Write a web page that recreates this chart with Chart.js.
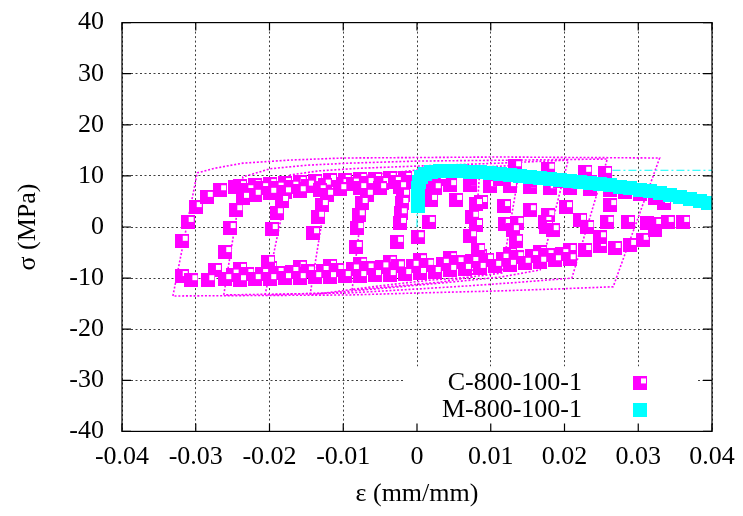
<!DOCTYPE html>
<html>
<head>
<meta charset="utf-8">
<script src="https://cdn.jsdelivr.net/npm/chart.js@4.4.0/dist/chart.umd.min.js"></script>
<style>
    html, body { margin: 0; padding: 0; background: #fff; }
    #wrap { width: 743px; height: 516px; }
</style>
</head>
<body>
<div id="wrap"><canvas id="chart" width="743" height="516"></canvas></div>
<script>
// Axis ticks
const xTicks = [-0.04, -0.03, -0.02, -0.01, 0, 0.01, 0.02, 0.03, 0.04];
const yTicks = [-40, -30, -20, -10, 0, 10, 20, 30, 40];

const seriesLabels = ['C-800-100-1', 'M-800-100-1'];

// C-800-100-1 : sampled points (strain mm/mm, stress MPa)
const cStrain = [
    // upper branch, outer row
    -0.0300, -0.0285, -0.0267, -0.0247, -0.0240, -0.0220, -0.0199, -0.0179, -0.0159, -0.0138, -0.0118, -0.0098, -0.0077, -0.0057, -0.0037, -0.0016,
    // upper branch, middle row
    -0.0230, -0.0210, -0.0189, -0.0169, -0.0148, -0.0125, -0.0101, -0.0087, -0.0067, -0.0047, -0.0030, -0.0008,
    // upper branch, inner row
    -0.0220, -0.0199, -0.0179, -0.0159, -0.0132, -0.0104, -0.0077, -0.0050, -0.0023, 0.0018, 0.0045, 0.0072, 0.0099, 0.0126, 0.0153, 0.0180, 0.0207, 0.0235, 0.0262, 0.0282, 0.0302, 0.0323,
    // upper branch near M curve
    0.0031, 0.0072, 0.0113, 0.0153, 0.0194, 0.0235, 0.0133, 0.0178, 0.0228, 0.0255,
    // lower branch, upper row
    -0.0274, -0.0240, -0.0199, -0.0159, -0.0118, -0.0077, -0.0037, 0.0004, 0.0045, 0.0085, 0.0126, 0.0167, 0.0207, 0.0248,
    // lower branch, middle row
    -0.0250, -0.0230, -0.0210, -0.0189, -0.0169, -0.0148, -0.0128, -0.0108, -0.0087, -0.0067, -0.0047, -0.0026,
    -0.0006, 0.0014, 0.0035, 0.0055, 0.0075, 0.0095, 0.0116, 0.0136, 0.0156, 0.0177, 0.0197,
    // lower branch, lower row
    -0.0319, -0.0306, -0.0283, -0.0260, -0.0240, -0.0220, -0.0199, -0.0179, -0.0159, -0.0138, -0.0118, -0.0098, -0.0077, -0.0057, -0.0037, -0.0016,
    0.0004, 0.0024, 0.0045, 0.0065, 0.0085, 0.0106, 0.0126, 0.0146, 0.0167, 0.0187, 0.0207,
    // lower branch right end
    0.0228, 0.0268, 0.0289, 0.0306, 0.0323,
    // reloading branches
    -0.0319, -0.0311,
    -0.0236, -0.0245, -0.0254, -0.0260,
    -0.0183, -0.0190, -0.0197, -0.0202,
    -0.0122, -0.0129, -0.0134, -0.0141,
    -0.0068, -0.0075, -0.0079, -0.0081, -0.0083,
    -0.0019, -0.0020, -0.0022, -0.0023, -0.0027,
    0.0024, 0.0019, 0.0016, 0.0001,
    // positive strain side
    0.0053, 0.0087, 0.0080, 0.0075, 0.0080, 0.0072, 0.0083,
    0.0118, 0.0119, 0.0136, 0.0130, 0.0134,
    0.0153, 0.0178, 0.0174, 0.0175, 0.0184,
    0.0202, 0.0262, 0.0221, 0.0231, 0.0258, 0.0248, 0.0286,
    0.0335, 0.0312, 0.0323, 0.0340, 0.0361
];
const cStress = [
    3.9, 5.9, 7.2, 7.8, 8.0, 8.2, 8.4, 8.6, 8.8, 9.0, 9.2, 9.2, 9.4, 9.4, 9.6, 9.6,
    7.2, 7.6, 7.7, 7.9, 8.1, 8.3, 8.4, 8.5, 8.6, 8.6, 8.8, 8.8,
    6.3, 6.7, 6.8, 7.0, 7.2, 7.4, 7.6, 7.6, 7.8, 8.0, 8.2, 8.2, 8.0, 8.0, 7.8, 7.6, 7.6, 7.4, 7.2, 6.8, 6.5, 5.7,
    9.4, 9.6, 9.4, 9.2, 9.0, 8.8, 11.9, 11.4, 10.8, 10.6,
    -8.4, -8.2, -8.0, -7.8, -7.6, -7.2, -6.8, -6.5, -6.1, -5.7, -5.3, -4.9, -4.5, -3.7,
    -9.3, -9.2, -9.1, -9.0, -8.8, -8.7, -8.6, -8.4, -8.3, -8.1, -7.9, -7.7,
    -7.6, -7.4, -7.2, -6.9, -6.7, -6.4, -6.2, -5.9, -5.7, -5.5, -5.3,
    -9.6, -10.4, -10.4, -10.2, -10.4, -10.2, -10.2, -10.0, -10.0, -9.8, -9.8, -9.6, -9.6, -9.4, -9.4, -9.2,
    -9.0, -8.8, -8.4, -8.2, -8.0, -7.6, -7.4, -7.0, -6.8, -6.5, -6.3,
    -4.5, -4.1, -3.5, -2.5, -0.6,
    -2.7, 1.0,
    5.7, 3.3, -0.2, -4.9,
    5.1, 2.7, -0.4, -6.8,
    6.3, 4.3, 2.0, -1.2,
    6.3, 4.7, 2.3, -0.2, -3.9,
    6.3, 4.7, 2.7, 0.8, -2.9,
    7.6, 5.3, 1.0, -2.0,
    5.3, 4.9, 4.5, 2.0, 0.4, -1.8, -4.5,
    4.1, 0.6, 0.8, -0.6, -2.7,
    3.3, 2.3, 1.0, 0, -0.6,
    3.9, 4.3, 1.4, 0, 1.0, -2.0, 1.0,
    4.7, 0.8, 0.6, 1.0, 1.0
];

// C-800-100-1 : thin dotted loops
const loop1Strain = [-0.0331, -0.0298, -0.0274, -0.0236, -0.0172, -0.0100, 0.0113, 0.0329, 0.0266, 0.0194, 0.0113, 0.0004, -0.0091, -0.0331];
const loop1Stress = [-13.5, 10.6, 11.5, 12.5, 13.1, 13.5, 13.7, 13.5, -11.7, -12.1, -12.5, -12.9, -13.3, -13.5];
const loop2Strain = [-0.0262, -0.0236, -0.0199, -0.0149, -0.0091, 0.0000, 0.0140, 0.0258, 0.0210, 0.0140, 0.0072, 0.0004, -0.0091, -0.0262];
const loop2Stress = [-13.3, 9.8, 11.4, 12.1, 12.5, 12.9, 13.1, 13.3, -10.0, -10.8, -11.5, -12.1, -12.9, -13.3];
const loop3Strain = [-0.0206, -0.0172, -0.0132, -0.0077, -0.0005, 0.0113, 0.0205, 0.0167, 0.0113, 0.0045, -0.0023, -0.0118, -0.0206];
const loop3Stress = [-13.3, 10.2, 11.0, 11.5, 11.9, 12.5, 13.1, -8.4, -9.8, -10.8, -11.7, -12.9, -13.3];
const loop4Strain = [-0.0145, -0.0121, -0.0077, 0.0004, 0.0085, 0.0140, 0.0115, 0.0072, 0.0018, -0.0050, -0.0145];
const loop4Stress = [-13.3, 8.2, 10.0, 11.2, 11.7, 12.1, -9.0, -9.8, -10.4, -11.5, -13.3];
const loop5Strain = [-0.0088, -0.0071, -0.0023, 0.0045, 0.0085, 0.0075, 0.0031, -0.0023, -0.0088];
const loop5Stress = [-12.3, 8.2, 9.6, 10.4, 10.8, -9.8, -10.8, -11.5, -12.3];

// M-800-100-1 : monotonic curve
const mStrain = [0.0001, 0.0001, 0.0001, 0.0001, 0.0003, 0.0005, 0.0011, 0.0019, 0.0031, 0.0045, 0.0058, 0.0072, 0.0085, 0.0099, 0.0113, 0.0126, 0.0140, 0.0153,
    0.0167, 0.0180, 0.0194, 0.0207, 0.0221, 0.0235, 0.0248, 0.0262, 0.0275, 0.0289, 0.0302, 0.0316, 0.0329, 0.0343, 0.0357, 0.0370, 0.0384, 0.0395];
const mStress = [4.1, 5.3, 6.5, 7.6, 8.8, 9.8, 10.4, 10.8, 11.0, 11.0, 10.9, 10.8, 10.7, 10.6, 10.4, 10.2, 10.0, 9.8,
    9.6, 9.4, 9.2, 9.0, 8.8, 8.6, 8.4, 8.2, 7.9, 7.6, 7.3, 7.0, 6.7, 6.3, 5.9, 5.5, 5.1, 4.6];

// M-800-100-1 : dash-dot reference line (null = break)
const mLineStrain = [0, 0, null, 0.0265, 0.0400];
const mLineStress = [0, 4.1, null, 11.1, 11.1];

const pts = (xs, ys) => xs.map((x, i) => ({ x: x, y: ys[i] }));

const magenta = '#ff00ff';
const cyan = '#00ffff';
const serif = '"Liberation Serif", "Times New Roman", serif';

// gnuplot-like square markers
function squareMarker(color, hole) {
    const c = document.createElement('canvas');
    c.width = 14;
    c.height = 14;
    const g = c.getContext('2d');
    g.fillStyle = color;
    g.fillRect(0, 0, 14, 14);
    if (hole) {
        g.fillStyle = '#fff';
        g.fillRect(8, 2, 5, 5);
    }
    return c;
}
const cMarker = squareMarker(magenta, true);
const mMarker = squareMarker(cyan, false);

const loopSet = (xs, ys) => ({
    data: pts(xs, ys),
    showLine: true,
    borderColor: magenta,
    borderWidth: 1.6,
    borderDash: [2, 1.8],
    pointRadius: 0,
    order: 3
});

// no label padding around the plot box: the box is placed by hand
const noPad = s => {
    s.paddingTop = 0;
    s.paddingBottom = 0;
    s.paddingLeft = 0;
    s.paddingRight = 0;
};

// border, inward ticks and opaque key
const frameAndKey = {
    id: 'frameAndKey',
    afterDraw(chart) {
        const { ctx, chartArea: a, scales } = chart;
        ctx.save();

        // key box
        const keyLeft = a.right - 308;
        const keyTop = a.bottom - 65;
        ctx.fillStyle = '#fff';
        ctx.fillRect(keyLeft, keyTop, a.right - 14 - keyLeft, a.bottom - keyTop);

        // frame
        ctx.strokeStyle = '#000';
        ctx.lineWidth = 1.2;
        ctx.setLineDash([]);
        ctx.strokeRect(a.left, a.top, a.right - a.left, a.bottom - a.top);

        ctx.beginPath();
        xTicks.forEach(v => {
            const px = scales.x.getPixelForValue(v);
            ctx.moveTo(px, a.bottom); ctx.lineTo(px, a.bottom - 8);
            ctx.moveTo(px, a.top); ctx.lineTo(px, a.top + 8);
        });
        yTicks.forEach(v => {
            const py = scales.y.getPixelForValue(v);
            ctx.moveTo(a.left, py); ctx.lineTo(a.left + 9, py);
            ctx.moveTo(a.right, py); ctx.lineTo(a.right - 9, py);
        });
        ctx.stroke();

        // key entries
        const markers = [cMarker, mMarker];
        ctx.font = '26px ' + serif;
        ctx.fillStyle = '#000';
        ctx.textAlign = 'right';
        ctx.textBaseline = 'middle';
        seriesLabels.forEach((label, i) => {
            const cy = a.bottom - 48 + i * 27;
            ctx.fillText(label, a.right - 130, cy);
            ctx.drawImage(markers[i], a.right - 79, cy - 7);
        });
        ctx.restore();
    }
};

const tickFont = { family: serif, size: 26 };

new Chart(document.getElementById('chart').getContext('2d'), {
    type: 'scatter',
    data: {
        datasets: [
            {
                label: seriesLabels[1],
                data: pts(mStrain, mStress),
                pointStyle: mMarker,
                pointRadius: 7,
                order: 0
            },
            {
                data: pts(mLineStrain, mLineStress),
                showLine: true,
                spanGaps: false,
                borderColor: cyan,
                borderWidth: 1,
                borderDash: [8, 3, 2, 3],
                pointRadius: 0,
                order: 1
            },
            {
                label: seriesLabels[0],
                data: pts(cStrain, cStress),
                pointStyle: cMarker,
                pointRadius: 7,
                order: 2
            },
            loopSet(loop1Strain, loop1Stress),
            loopSet(loop2Strain, loop2Stress),
            loopSet(loop3Strain, loop3Stress),
            loopSet(loop4Strain, loop4Stress),
            loopSet(loop5Strain, loop5Stress)
        ]
    },
    options: {
        responsive: false,
        animation: false,
        events: [],
        layout: { padding: { top: 22.6, right: 31, left: 0, bottom: 0 } },
        plugins: {
            legend: { display: false },
            tooltip: { enabled: false }
        },
        scales: {
            x: {
                type: 'linear',
                min: -0.04,
                max: 0.04,
                afterBuildTicks: s => { s.ticks = xTicks.map(v => ({ value: v })); },
                afterFit: s => { s.height = 84.6; noPad(s); },
                grid: { color: 'rgba(0,0,0,0.75)', lineWidth: 1, drawTicks: false },
                border: { display: false, dash: [2, 2.5] },
                ticks: {
                    color: '#000',
                    font: tickFont,
                    padding: 10,
                    maxRotation: 0,
                    autoSkip: false,
                    callback: v => (Math.abs(v) < 1e-9 ? '0' : v.toFixed(2))
                },
                title: { display: true, text: 'ε (mm/mm)', color: '#000', font: tickFont, padding: { top: 0, bottom: 6.4 } }
            },
            y: {
                type: 'linear',
                min: -40,
                max: 40,
                afterBuildTicks: s => { s.ticks = yTicks.map(v => ({ value: v })); },
                afterFit: s => { s.width = 122; noPad(s); },
                grid: { color: 'rgba(0,0,0,0.75)', lineWidth: 1, drawTicks: false },
                border: { display: false, dash: [2, 2.5] },
                ticks: {
                    color: '#000',
                    font: tickFont,
                    padding: 18,
                    autoSkip: false,
                    callback: v => String(v)
                },
                title: { display: true, text: 'σ (MPa)', color: '#000', font: tickFont, padding: { top: 12.4, bottom: 0 } }
            }
        }
    },
    plugins: [frameAndKey]
});
</script>
</body>
</html>
